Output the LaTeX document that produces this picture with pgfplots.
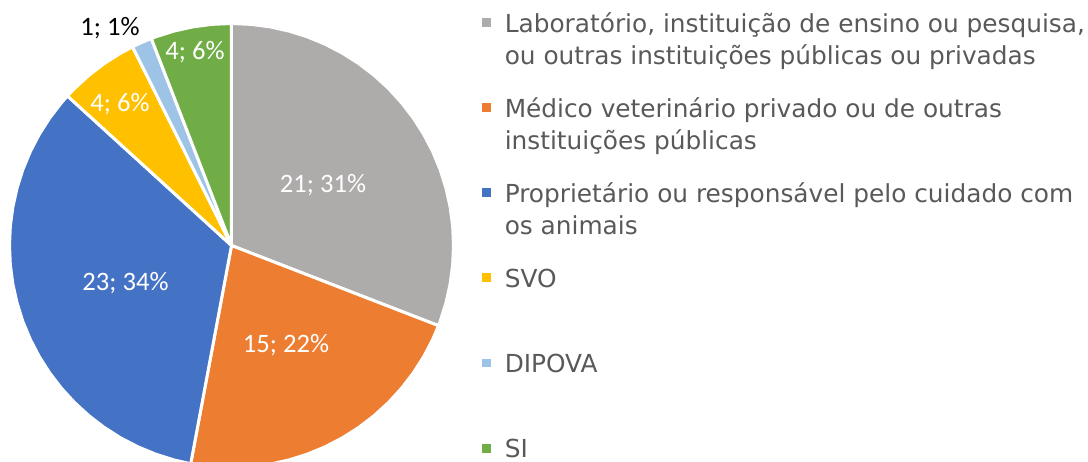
\documentclass[border=0pt]{standalone}
\usepackage{pgfplots}
\pgfplotsset{compat=1.18}
\usepgfplotslibrary{polar}
\usepackage{fontspec}
\newfontfamily\legfont{DejaVu Sans}
\newfontfamily\lblfont{Carlito}
\definecolor{cLab}{HTML}{AEABAB}
\definecolor{cMed}{HTML}{ED7D31}
\definecolor{cPro}{HTML}{4472C4}
\definecolor{cSVO}{HTML}{FFC000}
\definecolor{cDIP}{HTML}{9DC3E6}
\definecolor{cSI}{HTML}{70AD47}
\definecolor{legtext}{HTML}{595959}
\newcommand\ent[1]{\parbox[t]{300pt}{#1}\rule[-31.35pt]{0pt}{31.35pt}}
\tikzset{lbl/.style={font=\lblfont\fontsize{13.3}{16}\selectfont, text height=8.57pt, text depth=0pt, inner sep=0pt, anchor=center}}
% counts: Lab 21, Medico 15, Proprietario 23, SVO 4, DIPOVA 1, SI 4 (total 68)
\begin{document}
\begin{tikzpicture}
\begin{polaraxis}[
  hide axis, scale only axis, width=222pt, height=222pt,
  ymin=0, ymax=1, enlargelimits=false, clip=false,
  legend style={at={(axis cs:43.21,1.55)}, anchor=north west, draw=none, fill=none,
    inner sep=0pt, outer sep=0pt, row sep=0pt, column sep=0pt,
    font=\legfont\fontsize{12.4}{16}\selectfont, text=legtext,
    nodes={inner sep=0pt, outer sep=0pt, text depth=, text height=},
    cells={anchor=base west}},
  legend image code/.code={\fill[#1, draw=none] (0pt,2.65pt) rectangle (4.5pt,7.1pt); \path (10.5pt,2.65pt);},
]
\addplot[fill=cLab, draw=white, line width=1.5pt, line join=round] coordinates {(0,0) (338.824,1) (340,1) (345,1) (350,1) (355,1) (360,1) (365,1) (370,1) (375,1) (380,1) (385,1) (390,1) (395,1) (400,1) (405,1) (410,1) (415,1) (420,1) (425,1) (430,1) (435,1) (440,1) (445,1) (450,1)} -- cycle;
\addlegendentry{\ent{\strut Laboratório, instituição de ensino ou pesquisa,\\\strut ou outras instituições públicas ou privadas}}
\addplot[fill=cMed, draw=white, line width=1.5pt, line join=round] coordinates {(0,0) (259.412,1) (260,1) (265,1) (270,1) (275,1) (280,1) (285,1) (290,1) (295,1) (300,1) (305,1) (310,1) (315,1) (320,1) (325,1) (330,1) (335,1) (338.824,1)} -- cycle;
\addlegendentry{\ent{\strut Médico veterinário privado ou de outras\\\strut instituições públicas}}
\addplot[fill=cPro, draw=white, line width=1.5pt, line join=round] coordinates {(0,0) (137.647,1) (140,1) (145,1) (150,1) (155,1) (160,1) (165,1) (170,1) (175,1) (180,1) (185,1) (190,1) (195,1) (200,1) (205,1) (210,1) (215,1) (220,1) (225,1) (230,1) (235,1) (240,1) (245,1) (250,1) (255,1) (259.412,1)} -- cycle;
\addlegendentry{\ent{\strut Proprietário ou responsável pelo cuidado com\\\strut os animais}}
\addplot[fill=cSVO, draw=white, line width=1.5pt, line join=round] coordinates {(0,0) (116.471,1) (120,1) (125,1) (130,1) (135,1) (137.647,1)} -- cycle;
\addlegendentry{\ent{\strut SVO}}
\addplot[fill=cDIP, draw=white, line width=1.5pt, line join=round] coordinates {(0,0) (111.176,1) (114,1) (116.471,1)} -- cycle;
\addlegendentry{\ent{\strut DIPOVA}}
\addplot[fill=cSI, draw=white, line width=1.5pt, line join=round] coordinates {(0,0) (90,1) (95,1) (100,1) (105,1) (110,1) (111.176,1)} -- cycle;
\addlegendentry{\parbox[t]{300pt}{\rule{0pt}{11.2pt}SI}}
\node[lbl, text=white] at (axis cs:33.9,0.4966) {21; 31\%};
\node[lbl, text=white] at (axis cs:298.96,0.507) {15; 22\%};
\node[lbl, text=white] at (axis cs:199.0,0.505) {23; 34\%};
\node[lbl, text=white] at (axis cs:128.04,0.815) {4; 6\%};
\node[lbl, text=white] at (axis cs:100.63,0.891) {4; 6\%};
\node[lbl, text=black] at (axis cs:119.08,1.126) {1; 1\%};
\coordinate (C) at (axis cs:0,0);
\end{polaraxis}
\pgfresetboundingbox
\path[use as bounding box] (C) ++(-115.75pt,-107.75pt) rectangle ++(544pt,230.5pt);
\end{tikzpicture}
\end{document}
